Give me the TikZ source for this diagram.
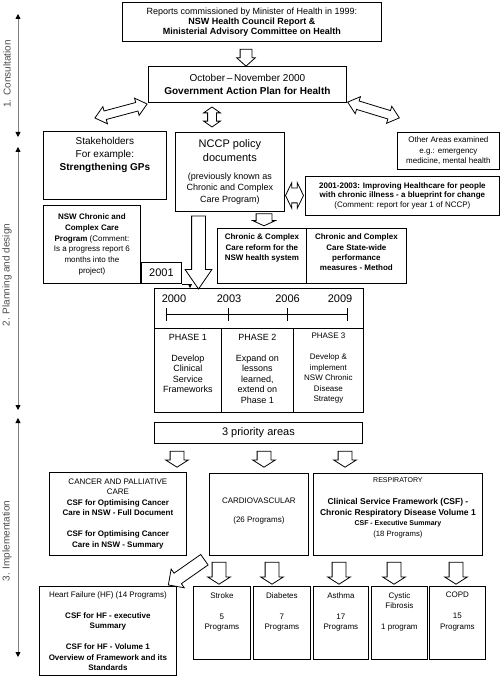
\documentclass[tikz,border=0pt]{standalone}
\usepackage{fontspec}
\setmainfont{Liberation Sans}
\usetikzlibrary{shapes.arrows,arrows.meta,positioning}

\begin{document}
\begin{tikzpicture}[x=1pt,y=-1pt,
box/.style = {draw, line width=0.8pt, anchor=north west, inner sep=1pt, align=center},
txt/.style = {inner sep=0pt, align=center, anchor=north},
f8/.style = {font=\fontsize{8}{10.5}\selectfont},
f9/.style = {font=\fontsize{9}{10.5}\selectfont},
f10/.style = {font=\fontsize{10}{13}\selectfont},
f11/.style = {font=\fontsize{11}{14}\selectfont},
sarr/.style = {single arrow, draw, line width=0.8pt, inner xsep=0pt, single arrow head indent=0pt},
darr/.style = {double arrow, draw, line width=0.8pt, inner xsep=0pt, double arrow head indent=0pt},
downarr/.style = {sarr, rotate=-90, minimum height=#1, inner ysep=6.5pt,
  single arrow head extend=4.5pt, single arrow tip angle=115},
stage/.style = {draw=gray, line width=0.8pt,
  {Triangle[length=5pt,width=5pt,color=black]}-{Triangle[length=5pt,width=5pt,color=black]}}]
\useasboundingbox (0,0) rectangle (500,676);

% stages on the left
\draw[stage] (18,14) -- (18,137);
\draw[stage] (18,147) -- (18,410);
\draw[stage] (18,418) -- (18,657);
\node[rotate=90, f10, text=black!70] (s1) at (7,74) {1. Consultation};
\node[rotate=90, f10, text=black!70] (s2) at (7,275) {2. Planning and design};
\node[rotate=90, f10, text=black!70] (s3) at (7,541) {3. Implementation};

% 1. consultation
\node[box, font=\fontsize{9}{10}\selectfont, minimum width=259pt, minimum height=39pt] (top) at (122,2)
  {Reports commissioned by Minister of Health in 1999:\\ \textbf{NSW Health Council Report \&}\\ \textbf{Ministerial Advisory Committee on Health}};
\node[sarr, rotate=-90, minimum height=17pt, inner ysep=5.5pt, single arrow head extend=3.5pt,
  single arrow tip angle=96] (a1) at (246,55) {};
\node[box, f10, minimum width=198pt, minimum height=36pt] (gap) at (148,66)
  {October\,--\,November 2000\\ \textbf{Government Action Plan for Health}};

\node[darr, rotate=15, minimum height=54pt, inner ysep=4pt, double arrow head extend=4.5pt,
  double arrow tip angle=80] (d1) at (121,111) {};
\node[darr, rotate=90, minimum height=20pt, inner ysep=4pt, double arrow head extend=4pt,
  double arrow tip angle=110] (d2) at (212,117) {};
\node[darr, rotate=-17, minimum height=54pt, inner ysep=4pt, double arrow head extend=4.5pt,
  double arrow tip angle=80] (d3) at (373.5,110) {};

% 2. planning and design
\node[box, minimum width=123pt, minimum height=68pt] (stake) at (43,131) {};
\node[txt, f10] (staket) at ([yshift=-6.3pt]stake.north)
  {Stakeholders\\For example:\\ \textbf{Strengthening GPs}};

\node[box, font=\fontsize{9}{11.5}\selectfont, minimum width=109pt, minimum height=79pt] (nccp) at (175,132)
  {\fontsize{11}{14}\selectfont NCCP policy\\[2.5pt] \fontsize{11}{14}\selectfont documents\\[6.5pt]
   (previously known as\\Chronic and Complex\\Care Program)};

\node[box, f8, minimum width=102pt, minimum height=37pt] (other) at (397,132)
  {Other Areas examined\\e.g.: emergency\\medicine, mental health};

\node[box, font=\fontsize{8}{9.4}\selectfont, minimum width=194pt, minimum height=39pt] (blue) at (305,176)
  {\textbf{2001-2003: Improving Healthcare for people}\\ \textbf{with chronic illness - a blueprint for change}\\
   (Comment: report for year 1 of NCCP)};
\node[darr, minimum height=18pt, inner ysep=7pt, double arrow head extend=5.5pt,
  double arrow tip angle=128] (d4) at (294.5,195.5) {};

\node[box, font=\fontsize{8}{10.7}\selectfont, minimum width=97pt, minimum height=78pt] (nswp) at (43,205)
  {\textbf{NSW Chronic and}\\ \textbf{Complex Care}\\ \textbf{Program} (Comment:\\Is a progress report 6\\months into the\\project)};
\node[box, f11, minimum width=40pt, minimum height=21pt] (y2001) at (141,262) {2001};

\node[sarr, rotate=-90, minimum height=12pt, inner ysep=7.5pt, single arrow head extend=3.5pt,
  single arrow tip angle=131] (a2) at (264,218) {};
\node[box, minimum width=89pt, minimum height=55pt] (cc1) at (217,228) {};
\node[txt, font=\fontsize{8}{10.3}\selectfont\bfseries] (cc1t) at ([yshift=-6pt]cc1.north)
  {Chronic \& Complex\\Care reform for the\\NSW health system};
\node[box, minimum width=100pt, minimum height=55pt] (cc2) at (306,228) {};
\node[txt, font=\fontsize{8}{10.3}\selectfont\bfseries] (cc2t) at ([yshift=-6pt]cc2.north)
  {Chronic and Complex\\Care State-wide\\performance\\measures - Method};

\node[sarr, rotate=-90, minimum height=73pt, inner ysep=6.5pt, single arrow head extend=6.5pt,
  single arrow tip angle=69] (big) at (198.5,247.5) {};

% timeline and phases
\node[box, minimum width=209pt, minimum height=40pt] (tl) at (154,288) {};
\draw[-{Triangle[length=4pt,width=4pt]}, line width=0.6pt] (y2001.south east) -| ([xshift=36pt]tl.north west);
\foreach \yr/\xx in {2000/174, 2003/229, 2006/287.5, 2009/340}
  \node[f11] (yr\yr) at (\xx,299) {\yr};
\draw[line width=0.8pt] (166,314) -- (347,314);
\foreach \xx in {166,228,287,347}
  \draw[line width=0.8pt] (\xx,308) -- (\xx,321);

\node[box, minimum width=67pt, minimum height=84pt] (ph1) at (154,328) {};
\node[box, minimum width=72pt, minimum height=84pt] (ph2) at (221,328) {};
\node[box, minimum width=70pt, minimum height=84pt] (ph3) at (293,328) {};
\node[txt, f9] (ph1t) at ([yshift=-5.8pt]ph1.north) {PHASE 1\\[10.5pt]Develop\\Clinical\\Service\\Frameworks};
\node[txt, f9] (ph2t) at ([yshift=-5.8pt]ph2.north) {PHASE 2\\[10.5pt]Expand on\\lessons\\learned,\\extend on\\Phase 1};
\node[txt, f8] (ph3t) at ([yshift=-5.1pt]ph3.north) {PHASE 3\\[10.5pt]Develop \&\\implement\\NSW Chronic\\Disease\\Strategy};

% 3. implementation
\node[box, f11, minimum width=208pt, minimum height=21pt] (prio) at (154,422) {3 priority areas};
\foreach \xx [count=\i] in {177,264,345}
  \node[downarr=16pt] (pa\i) at (\xx,457) {};

\node[box, f8, minimum width=137pt, minimum height=83pt] (cancer) at (49,472)
  {CANCER AND PALLIATIVE\\CARE\\ \textbf{CSF for Optimising Cancer}\\ \textbf{Care in NSW - Full Document}\\[10.5pt]
   \textbf{CSF for Optimising Cancer}\\ \textbf{Care in NSW - Summary}};
\node[box, minimum width=99pt, minimum height=82pt] (cardio) at (209,473) {};
\node[txt, f8] (cardiot) at ([yshift=-25pt]cardio.north) {CARDIOVASCULAR\\[8.5pt](26 Programs)};
\node[box, minimum width=169pt, minimum height=82pt] (resp) at (313,473) {};
\node[txt, font=\fontsize{8}{10.8}\selectfont] (respt) at ([yshift=-4.6pt]resp.north)
  {\fontsize{7}{10.8}\selectfont RESPIRATORY\\[10.8pt]
   \fontsize{8.5}{10.8}\selectfont\bfseries Clinical Service Framework (CSF) -\\
   \fontsize{8.5}{10.8}\selectfont\bfseries Chronic Respiratory Disease Volume 1\\
   \fontsize{7}{10.8}\selectfont\bfseries CSF - Executive Summary\\
   \fontsize{7.7}{10.8}\selectfont (18 Programs)};

\node[sarr, rotate=215, minimum height=44pt, inner ysep=6pt, single arrow head extend=5pt,
  single arrow tip angle=90] (diag) at (189,570.5) {};
\foreach \xx [count=\i] in {219,272,339,394,456}
  \node[downarr=22pt] (pb\i) at (\xx,571) {};

\node[box, f8, minimum width=137pt, minimum height=89pt] (hf) at (39,586)
  {Heart Failure (HF) (14 Programs)\\[10.5pt] \textbf{CSF for HF - executive}\\ \textbf{Summary}\\[10.5pt]
   \textbf{CSF for HF - Volume 1}\\ \textbf{Overview of Framework and its}\\ \textbf{Standards}};

\foreach \nm/\xx/\ww/\tx in {stroke/193/57/{Stroke\\[10.5pt]5\\Programs},
    diab/253/57/{Diabetes\\[10.5pt]7\\Programs},
    asth/313/55/{Asthma\\[10.5pt]17\\Programs},
    cyst/371/56/{Cystic\\Fibrosis\\[10.5pt]1 program},
    copd/429/56/{COPD\\[10.5pt]15\\Programs}}{
  \node[box, minimum width=\ww pt, minimum height=73pt] (\nm) at (\xx,586) {};
  \node[txt, f8] (\nm t) at ([yshift=-6pt]\nm.north) {\tx};
}

\end{tikzpicture}
\end{document}
